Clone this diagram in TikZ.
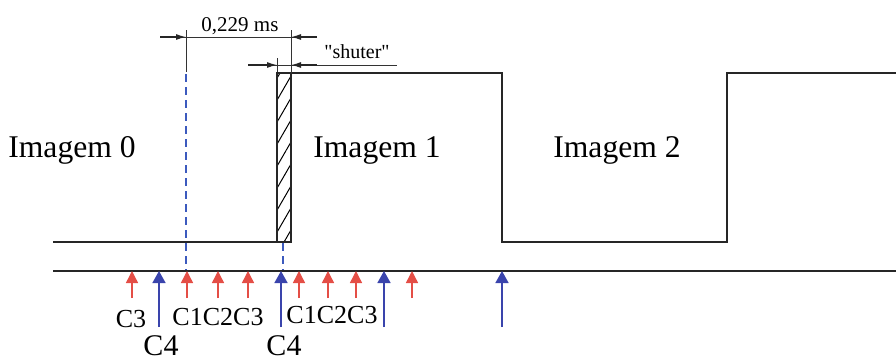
\documentclass[tikz,border=0pt]{standalone}
\usepackage{fontspec}
\setmainfont{Liberation Serif}
\usepackage{xcolor}
\usetikzlibrary{positioning, arrows.meta, patterns.meta}
\definecolor{trigred}{RGB}{228,78,70}
\definecolor{trigblue}{RGB}{58,68,172}
\definecolor{dimline}{RGB}{60,90,190}

\begin{document}
\begin{tikzpicture}[
    x=0.5pt, y=-0.5pt,
    wave/.style={black!85, line width=0.7pt},
    dimarr/.style={-{Latex[length=5pt, width=3pt]}, black!85, line width=0.55pt},
    ext/.style={black!80, line width=0.5pt},
    guide/.style={dimline, dash pattern=on 4pt off 2.5pt, line width=0.55pt},
    redtrig/.style={-{Triangle[length=6pt, width=6pt]}, trigred, line width=0.7pt},
    bluetrig/.style={-{Triangle[length=6pt, width=6.5pt]}, trigblue, line width=0.8pt},
    img/.style={font=\fontsize{15.8}{18}\selectfont, anchor=base},
    clab/.style={font=\fontsize{13}{15}\selectfont, anchor=base, inner sep=0pt},
    c4lab/.style={font=\fontsize{15}{17}\selectfont, anchor=base, inner sep=0pt},
    note/.style={font=\fontsize{10}{12}\selectfont, anchor=base, inner sep=0pt},
]
    \useasboundingbox (0,0) rectangle (896,360);

    % video signal
    \draw[wave] (53,242) -- (277,242);
    \draw[wave] (291,73) -- (502,73) -- (502,242) -- (727,242) -- (727,73) -- (896,73);
    \draw[wave, pattern={Lines[angle=60, distance=5.5pt, line width=0.5pt]}]
        (277,73) rectangle (291,242);

    % time axis
    \draw[wave] (53,271) -- (896,271);

    \node[img] (im0) at (72,157)  {Imagem 0};
    \node[img] (im1) at (377,157) {Imagem 1};
    \node[img] (im2) at (617,157) {Imagem 2};

    % 0,229 ms
    \draw[ext] (186,30) -- (186,72);
    \draw[ext] (291,30) -- (291,73);
    \draw[ext] (160,37) -- (317,37);
    \draw[dimarr] (160,37) -- (186,37);
    \draw[dimarr] (317,37) -- (291,37);
    \node[note, font=\fontsize{10.5}{12}\selectfont] (tdelay) at (240,31) {0,229 ms};

    % shutter
    \draw[ext] (277,58) -- (277,72);
    \draw[ext] (248,65) -- (397,65);
    \draw[dimarr] (248,65) -- (277,65);
    \draw[dimarr] (317,65) -- (291,65);
    \node[note] (shut) at (357,58) {\textquotedbl shuter\textquotedbl};

    \draw[guide] (186,74) -- (186,270);
    \draw[guide] (283,243) -- (283,270);

    % trigger pulses
    \foreach \n/\x in {1/132,2/187,3/218,4/248,5/299,6/328,7/356,8/412} {
        \coordinate (r\n) at (\x,298);
        \coordinate (r\n t) at (\x,271);
        \draw[redtrig] (r\n) -- (r\n t);
    }
    \foreach \n/\x in {1/159,2/281,3/384,4/502} {
        \coordinate (b\n) at (\x,327);
        \coordinate (b\n t) at (\x,271);
        \draw[bluetrig] (b\n) -- (b\n t);
    }

    \node[clab] (c3)   at (131,327) {C3};
    \node[clab] (cc1)  at (218,325) {C1C2C3};
    \node[clab] (cc2)  at (332,323) {C1C2C3};
    \node[c4lab] (c4a) at (161,355) {C4};
    \node[c4lab] (c4b) at (284,355) {C4};
\end{tikzpicture}
\end{document}
